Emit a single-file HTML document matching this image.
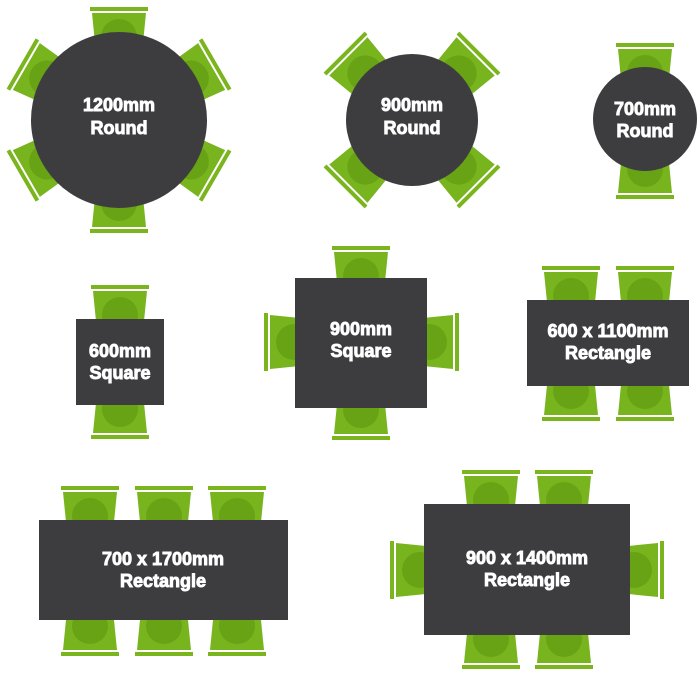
<!DOCTYPE html>
<html><head><meta charset="utf-8"><style>
html,body{margin:0;padding:0;background:#fff;width:700px;height:680px;overflow:hidden}
text{font-family:"Liberation Sans",sans-serif;font-weight:bold;font-size:18px;fill:#fff;stroke:#fff;stroke-width:0.9;text-anchor:middle}
</style></head><body>
<svg width="700" height="680" viewBox="0 0 700 680" xmlns="http://www.w3.org/2000/svg">
<defs>
<g id="c">
<rect x="-29" y="0" width="58" height="4" fill="#7ab51d"/>
<path d="M-27 6 L27 6 L23 46 L-23 46 Z" fill="#78b41e"/>
<circle cx="0" cy="30" r="18" fill="#68a315"/>
</g>
</defs>
<g transform="translate(119,120)">
<use href="#c" transform="rotate(0) translate(0,-113)"/>
<use href="#c" transform="rotate(60) translate(0,-113)"/>
<use href="#c" transform="rotate(120) translate(0,-113)"/>
<use href="#c" transform="rotate(180) translate(0,-113)"/>
<use href="#c" transform="rotate(240) translate(0,-113)"/>
<use href="#c" transform="rotate(300) translate(0,-113)"/>
<circle r="88" fill="#3d3d40"/>
<text y="-9">1200mm</text><text y="14">Round</text>
</g>
<g transform="translate(412,120)">
<use href="#c" transform="rotate(45) translate(0,-96)"/>
<use href="#c" transform="rotate(135) translate(0,-96)"/>
<use href="#c" transform="rotate(225) translate(0,-96)"/>
<use href="#c" transform="rotate(315) translate(0,-96)"/>
<circle r="66" fill="#3d3d40"/>
<text y="-9">900mm</text><text y="14">Round</text>
</g>
<use href="#c" transform="translate(645,43)"/>
<use href="#c" transform="translate(645,199) rotate(180)"/>
<circle cx="645" cy="119" r="52" fill="#3d3d40"/>
<text x="645" y="115">700mm</text><text x="645" y="137">Round</text>
<use href="#c" transform="translate(120,285)"/>
<use href="#c" transform="translate(120,439) rotate(180)"/>
<rect x="76" y="319" width="88" height="86" fill="#3d3d40"/>
<text x="120" y="357">600mm</text><text x="120" y="379">Square</text>
<use href="#c" transform="translate(361,246)"/>
<use href="#c" transform="translate(361,440) rotate(180)"/>
<use href="#c" transform="translate(264,342) rotate(-90)"/>
<use href="#c" transform="translate(459,342) rotate(90)"/>
<rect x="295" y="278" width="132" height="130" fill="#3d3d40"/>
<text x="361" y="335">900mm</text><text x="361" y="357">Square</text>
<use href="#c" transform="translate(571,266)"/>
<use href="#c" transform="translate(645,266)"/>
<use href="#c" transform="translate(571,421) rotate(180)"/>
<use href="#c" transform="translate(645,421) rotate(180)"/>
<rect x="527" y="300" width="162" height="86" fill="#3d3d40"/>
<text x="608" y="337">600 x 1100mm</text><text x="608" y="359">Rectangle</text>
<use href="#c" transform="translate(90,486)"/>
<use href="#c" transform="translate(164,486)"/>
<use href="#c" transform="translate(237,486)"/>
<use href="#c" transform="translate(90,656) rotate(180)"/>
<use href="#c" transform="translate(164,656) rotate(180)"/>
<use href="#c" transform="translate(237,656) rotate(180)"/>
<rect x="39" y="520" width="249" height="100" fill="#3d3d40"/>
<text x="163" y="565">700 x 1700mm</text><text x="163" y="587">Rectangle</text>
<use href="#c" transform="translate(491,470)"/>
<use href="#c" transform="translate(564,470)"/>
<use href="#c" transform="translate(491,669) rotate(180)"/>
<use href="#c" transform="translate(564,669) rotate(180)"/>
<use href="#c" transform="translate(390,570) rotate(-90)"/>
<use href="#c" transform="translate(664,570) rotate(90)"/>
<rect x="424" y="504" width="206" height="131" fill="#3d3d40"/>
<text x="527" y="564">900 x 1400mm</text><text x="527" y="586">Rectangle</text>
</svg>
</body></html>
